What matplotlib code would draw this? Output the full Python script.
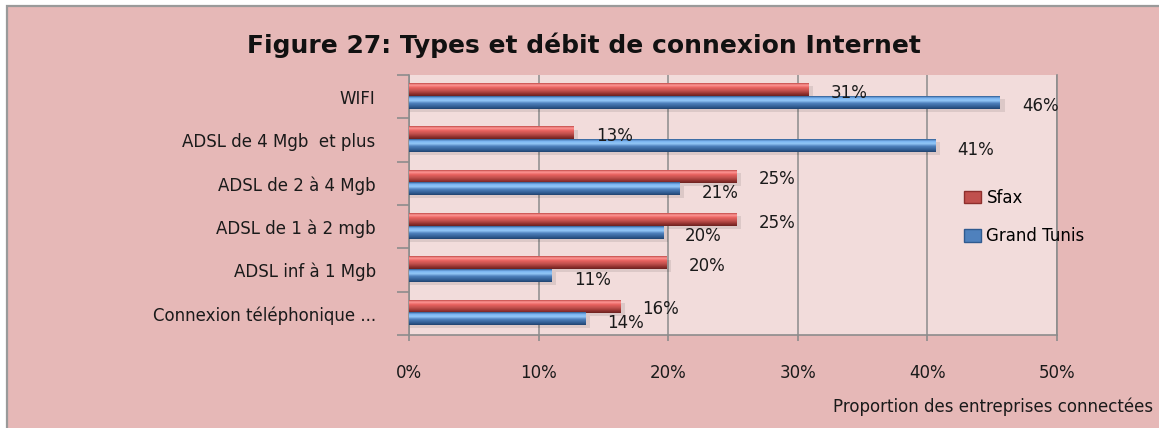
import numpy as np
import matplotlib
matplotlib.use("Agg")
import matplotlib.pyplot as plt
from matplotlib.colors import LinearSegmentedColormap
from matplotlib.patches import Rectangle, Patch

# Données (du haut vers le bas)
categories = ["WIFI", "ADSL de 4 Mgb  et plus", "ADSL de 2 à 4 Mgb", "ADSL de 1 à 2 mgb",
              "ADSL inf à 1 Mgb", "Connexion téléphonique ..."]
sfax = [30.8, 12.7, 25.3, 25.3, 19.9, 16.3]
grand_tunis = [45.6, 40.6, 20.9, 19.6, 11.0, 13.6]
series_names = ["Sfax", "Grand Tunis"]
xticks = [0, 10, 20, 30, 40, 50]

plt.rcParams["font.family"] = ["DejaVu Sans"]
FS = 12

outer_bg = "#E6B8B7"
plot_bg = "#F2DCDB"
grid_col = "#8C8C8C"
txt = "#1a1a1a"

red_cmap = LinearSegmentedColormap.from_list(
    "r", [(0, "#C24A47"), (0.15, "#FF9896"), (0.35, "#E8625F"), (0.6, "#C0504D"),
          (0.85, "#8E2F2D"), (1, "#6A2120")])
blue_cmap = LinearSegmentedColormap.from_list(
    "b", [(0, "#2F5A8F"), (0.15, "#79B3F0"), (0.35, "#94C8F7"), (0.55, "#4F81BD"),
          (0.85, "#2F5A8F"), (1, "#22446F")])

fig = plt.figure(figsize=(11.59, 4.28), dpi=100)
fig.patch.set_facecolor("white")
fig.patches.append(Rectangle((7 / 1159, -0.1), 1.2, 1.1 - 6 / 428, transform=fig.transFigure,
                             facecolor=outer_bg, edgecolor="#9A9A9A", linewidth=1.6, zorder=-10))

ax = fig.add_axes([409 / 1159, 93 / 428, 648 / 1159, 260 / 428])
ax.set_facecolor(plot_bg)

n = len(categories)
ypos = np.arange(n)[::-1]
h = 0.29
grad = np.linspace(0, 1, 64).reshape(-1, 1)


def draw_bar(val, yc, cmap):
    # ombre
    ax.add_patch(Rectangle((0, yc - h / 2 - 0.07), val + 0.35, h, facecolor="#000000",
                           alpha=0.09, edgecolor="none", zorder=2))
    ax.imshow(grad, cmap=cmap, extent=(0, val, yc - h / 2, yc + h / 2), aspect="auto",
              origin="upper", zorder=3, interpolation="bilinear")


for i in range(n):
    yr = ypos[i] + 0.16
    yb = ypos[i] - 0.13
    draw_bar(sfax[i], yr, red_cmap)
    draw_bar(grand_tunis[i], yb, blue_cmap)
    ax.annotate(f"{round(sfax[i])}%", (sfax[i], yr), xytext=(16, -2), textcoords="offset points",
                ha="left", va="center", fontsize=FS, color=txt, zorder=5)
    ax.annotate(f"{round(grand_tunis[i])}%", (grand_tunis[i], yb), xytext=(16, -3),
                textcoords="offset points", ha="left", va="center", fontsize=FS,
                color=txt, zorder=5)

ax.set_xlim(0, 50)
ax.set_ylim(-0.5, n - 0.5)
ax.set_xticks(xticks)
ax.set_xticklabels([f"{t}%" for t in xticks], fontsize=FS, color=txt)
ax.set_yticks(ypos)
ax.set_yticklabels(categories, fontsize=FS, color=txt)
ax.set_yticks(np.arange(n + 1) - 0.5, minor=True)
ax.tick_params(axis="y", which="major", length=0, pad=24)
ax.tick_params(axis="y", which="minor", length=8.5, color=grid_col, width=1.2)
ax.tick_params(axis="x", length=4, color=grid_col, width=1.2, pad=17)
ax.grid(axis="x", color=grid_col, linewidth=1.1, zorder=1)
ax.set_axisbelow(True)
for s in ["left", "bottom", "right"]:
    ax.spines[s].set_color(grid_col)
    ax.spines[s].set_linewidth(1.2)
ax.spines["top"].set_visible(False)

handles = [Patch(facecolor="#C0504D", edgecolor="#8E2F2D"),
           Patch(facecolor="#4F81BD", edgecolor="#2F5A8F")]
fig.legend(handles, series_names, loc="center left", bbox_to_anchor=(964 / 1159, 1 - 217 / 428),
           frameon=False, fontsize=FS, handlelength=1.0, handleheight=0.75, handletextpad=0.35,
           labelspacing=1.25, borderpad=0, borderaxespad=0)

fig.text(584 / 1159, 1 - 45 / 428, "Figure 27: Types et débit de connexion Internet",
         ha="center", va="center", fontsize=18, fontweight="bold", color="#111111")
fig.text(1153 / 1159, 1 - 407 / 428, "Proportion des entreprises connectées",
         ha="right", va="center", fontsize=FS, color=txt)

fig.savefig("out.png", dpi=100, facecolor=fig.get_facecolor())
